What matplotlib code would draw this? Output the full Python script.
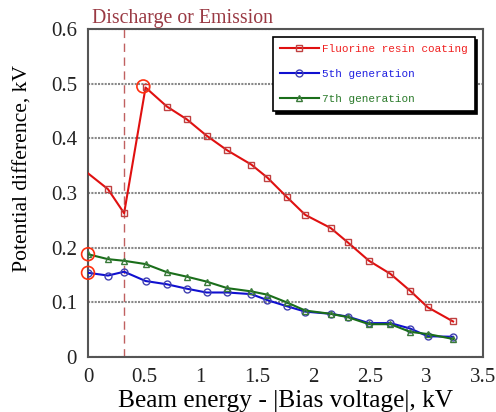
import matplotlib
matplotlib.use("Agg")
import matplotlib.pyplot as plt

# energy axis, kV
energy = [0.0, 0.177, 0.32, 0.51, 0.70, 0.874, 1.05, 1.234, 1.447, 1.59,
          1.76, 1.925, 2.15, 2.30, 2.49, 2.68, 2.855, 3.01, 3.235]

fluorine = [0.336, 0.307, 0.263, 0.493, 0.458, 0.435, 0.405, 0.378, 0.352, 0.328,
            0.293, 0.260, 0.236, 0.210, 0.176, 0.152, 0.121, 0.091, 0.065]
gen5 = [0.154, 0.149, 0.156, 0.139, 0.133, 0.125, 0.118, 0.118, 0.115, 0.104,
        0.093, 0.083, 0.079, 0.074, 0.062, 0.062, 0.052, 0.038, 0.037]
gen7 = [0.188, 0.179, 0.176, 0.170, 0.155, 0.147, 0.138, 0.126, 0.120, 0.114,
        0.100, 0.085, 0.079, 0.073, 0.060, 0.060, 0.046, 0.042, 0.033]

labels = ["Fluorine resin coating", "5th generation", "7th generation"]
discharge_x = 0.32
# circled points (onset of discharge / emission)
mark_x = [0.0, 0.0, 0.49]
mark_y = [0.154, 0.188, 0.495]

serif = "Liberation Serif"
fig = plt.figure(figsize=(4.96, 4.12), dpi=100)
ax = fig.add_axes([88 / 496, 1 - 357 / 412, 395 / 496, 328 / 412])

ax.plot(energy, fluorine, color="#e01010", lw=1.5, marker="s", ms=5,
        mfc="none", mec="#c04040", markevery=list(range(1, len(energy))),
        label=labels[0], zorder=3)
ax.plot(energy, gen5, color="#1010d0", lw=1.5, marker="o", ms=5,
        mfc="none", mec="#4040b0", label=labels[1], zorder=3)
ax.plot(energy, gen7, color="#1a6e1a", lw=1.5, marker="^", ms=5,
        mfc="none", mec="#3a7a3a", label=labels[2], zorder=4)

ax.scatter(mark_x, mark_y, s=85, facecolors="none", edgecolors="#ff3010",
           linewidths=1.2, zorder=5, clip_on=False)

ax.axvline(discharge_x, color="#c06060", lw=1, ls=(0, (6, 4)), zorder=2)

ax.set_xlim(0, 3.5)
ax.set_ylim(0, 0.6)
ax.set_xticks([0, 0.5, 1, 1.5, 2, 2.5, 3, 3.5])
ax.set_xticklabels(["0", "0.5", "1", "1.5", "2", "2.5", "3", "3.5"])
ax.set_yticks([0, 0.1, 0.2, 0.3, 0.4, 0.5, 0.6])
ax.set_yticklabels(["0", "0.1", "0.2", "0.3", "0.4", "0.5", "0.6"])
ax.tick_params(length=0, pad=8, labelsize=15, colors="#222222")
for t in ax.get_xticklabels() + ax.get_yticklabels():
    t.set_fontfamily(serif)
ax.yaxis.grid(True, color="#888888", lw=1.5, ls=(0, (1, 0.6)))
ax.set_axisbelow(True)
for s in ax.spines.values():
    s.set_color("#555555")
    s.set_linewidth(1.5)

ax.set_xlabel("Beam energy - |Bias voltage|, kV", fontfamily=serif,
              fontsize=18.3, labelpad=2)
ax.set_ylabel("Potential difference, kV", fontfamily=serif, fontsize=15.6)
ax.yaxis.set_label_coords(-0.14, 0.575)

fig.text(92 / 496, 1 - 18 / 412, "Discharge or Emission", fontfamily=serif,
         fontsize=14.3, color="#9a3a44", va="center", ha="left")

leg = ax.legend(loc="upper left", bbox_to_anchor=((273 - 88) / 395, (357 - 37) / 328),
                prop={"family": "Liberation Mono", "size": 7.9},
                frameon=True, fancybox=False,
                shadow={"color": "black", "alpha": 1},
                handlelength=3.5, handletextpad=0.3, borderpad=0.65,
                labelspacing=1.35, borderaxespad=0, edgecolor="black")
leg.get_frame().set_linewidth(1.2)
for txt, c in zip(leg.get_texts(), ["#f02020", "#2020e0", "#2a7a2a"]):
    txt.set_color(c)

fig.savefig("out.png", dpi=100)
